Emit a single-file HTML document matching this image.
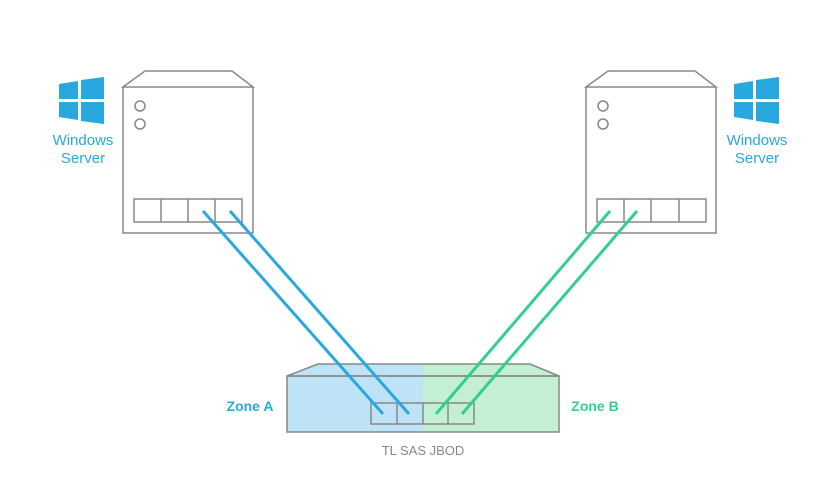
<!DOCTYPE html>
<html><head><meta charset="utf-8"><style>body{margin:0;background:#fff}svg{display:block}</style></head><body>
<svg width="840" height="500" viewBox="0 0 840 500" font-family="Liberation Sans, sans-serif">
<g fill="none" stroke="#888" stroke-width="1.5">
<path d="M123,87 L145,71 L232,71 L253,87 Z M123,87 V233 H253 V87" fill="#fff"/>
<circle cx="140" cy="106" r="5"/><circle cx="140" cy="124" r="5"/>
<rect x="134" y="199" width="108" height="23"/>
<path d="M161,199v23M188,199v23M215,199v23"/>
<path d="M586,87 L608,71 L695,71 L716,87 Z M586,87 V233 H716 V87" fill="#fff"/>
<circle cx="603" cy="106" r="5"/><circle cx="603" cy="124" r="5"/>
<rect x="597" y="199" width="109" height="23"/>
<path d="M624,199v23M651,199v23M679,199v23"/>
</g>
<rect x="287" y="376" width="136" height="56" fill="#bfe3f6"/>
<rect x="423" y="376" width="136" height="56" fill="#c3efd2"/>
<path d="M287,376 L318,364 L423,364 V376 Z" fill="#bfe3f6"/>
<path d="M423,364 L530,364 L559,376 H423 Z" fill="#c3efd2"/>
<g fill="none" stroke="#888" stroke-width="1.5">
<path d="M287,376 L318,364 L530,364 L559,376 Z"/>
<rect x="287" y="376" width="272" height="56"/>
<rect x="371" y="403" width="103" height="21"/>
<path d="M397,403v21M423,403v21M448,403v21"/>
</g>
<g stroke="#29a8e0" stroke-width="3"><path d="M203,211 L383,414M230,211 L409,414"/></g>
<g stroke="#33cf8c" stroke-width="3"><path d="M610,211 L436,414M637,211 L462,414"/></g>
<g fill="#29a8e0">
<path d="M59,84 L78,81 V99 H59Z M81,80 L104,77 V99 H81Z M59,102 H78 V120 L59,117Z M81,102 H104 V124 L81,121Z"/>
<path d="M734,84 L753,81 V99 H734Z M756,80 L779,77 V99 H756Z M734,102 H753 V120 L734,117Z M756,102 H779 V124 L756,121Z"/>
</g>
<g fill="#29a8e0" font-size="15" text-anchor="middle">
<text x="83" y="145">Windows</text><text x="83" y="163">Server</text>
<text x="757" y="145">Windows</text><text x="757" y="163">Server</text>
</g>
<text x="250" y="411" font-size="14" font-weight="bold" fill="#29a8e0" text-anchor="middle">Zone A</text>
<text x="595" y="411" font-size="14" font-weight="bold" fill="#33cf8c" text-anchor="middle">Zone B</text>
<text x="423" y="455" font-size="13" fill="#888" text-anchor="middle">TL SAS JBOD</text>
</svg>
</body></html>
